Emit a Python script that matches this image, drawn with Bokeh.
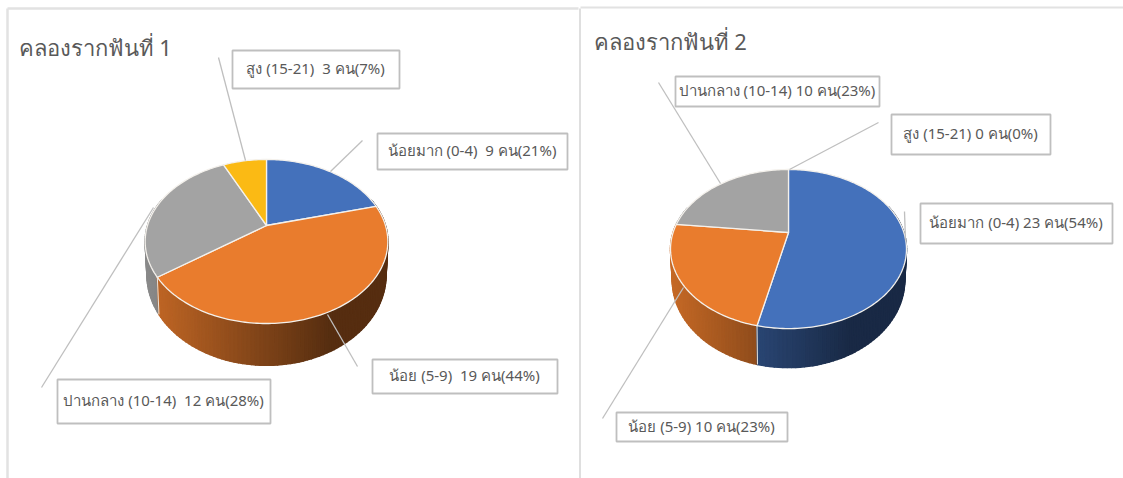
import math
from bokeh.plotting import figure
from bokeh.embed import file_html
from bokeh.resources import INLINE
from bokeh.core.properties import value

categories = ["น้อยมาก (0-4)", "น้อย (5-9)", "ปานกลาง (10-14)", "สูง (15-21)"]
values_1 = [9, 19, 12, 3]
values_2 = [23, 10, 10, 0]
percent_1 = [21, 44, 28, 7]
percent_2 = [54, 23, 23, 0]
colors = [(68, 113, 187), (233, 124, 45), (163, 163, 163), (251, 186, 20)]
titles = ["คลองรากฟันที่ 1", "คลองรากฟันที่ 2"]
FONT = "Noto Sans"
TXT = "#595959"
EDGE = "#BFBFBF"

# pie geometry: apex x, apex y, R, S, k, wall offset, wall y scale, wall x scale
geo_1 = dict(cx=266, cy=225, R=119, S=78.9, k=0.195, d=32, a=1.1, sx=0.985)
geo_2 = dict(cx=788, cy=232, R=115.4, S=76.1, k=0.208, d=29.4, a=1.1, sx=0.985)

# label boxes (left, right, top, bottom) and leader lines (x0, y0, x1, y1), per category
boxes_1 = [(377, 567, 133, 169), (372, 557, 359, 393), (57, 270, 379, 423), (232, 399, 50, 88)]
lead_1 = [(362, 140, 330, 171), (327, 314, 357, 366), (153, 207, 41, 387), (218, 57, 245, 160)]
boxes_2 = [(920, 1112, 203, 243), (616, 787, 412, 441), (675, 879, 76, 106), (891, 1050, 114, 154)]
lead_2 = [(904, 211, 905, 240), (683, 287, 602, 418), (720, 183, 658, 82), (878, 122, 789, 169)]

p = figure(width=1123, height=478, x_range=(0, 1123), y_range=(478, 0),
           output_backend="svg", toolbar_location=None, min_border=0,
           x_axis_location=None, y_axis_location=None)
p.grid.visible = False
p.outline_line_color = None
p.background_fill_color = "white"
p.border_fill_color = "white"


def rim(g, th):
    u, v = math.sin(th), math.cos(th)
    den = 1 + g["k"] * v
    return g["cx"] + g["R"] * u / den, g["cy"] - g["S"] * v / den


def wall(g, th):
    x, y = rim(g, th)
    return g["cx"] + g["sx"] * (x - g["cx"]), g["cy"] + g["d"] + g["a"] * (y - g["cy"])


def shade(col, f):
    return "#%02x%02x%02x" % tuple(int(c * f) for c in col)


def draw_pie(vals, g):
    total = sum(vals)
    edges = [0.0]
    for val in vals:
        edges.append(edges[-1] + val / total * 2 * math.pi)
    # side wall as thin strips, back to front
    strips = []
    for i, col in enumerate(colors):
        if vals[i] == 0:
            continue
        n = max(2, int((edges[i + 1] - edges[i]) / 0.03))
        for j in range(n):
            t0 = edges[i] + (edges[i + 1] - edges[i]) * j / n
            t1 = edges[i] + (edges[i + 1] - edges[i]) * (j + 1) / n
            strips.append((t0, t1, col))
    strips.sort(key=lambda s: -math.cos((s[0] + s[1]) / 2))
    rx = g["R"] * 1.02
    for t0, t1, col in strips:
        if math.cos((t0 + t1) / 2) > 0.35:
            continue
        a0, a1 = rim(g, t0), rim(g, t1)
        b0, b1 = wall(g, t0), wall(g, t1)
        t = ((a0[0] + a1[0]) / 2 - (g["cx"] - rx)) / (2 * rx)
        c = shade(col, max(0.37, 0.85 - 0.63 * t))
        p.patch([a0[0], a1[0], b1[0], b0[0]], [a0[1], a1[1], b1[1], b0[1]],
                fill_color=c, line_color=c, line_width=1.5, line_join="round")
    # white seams on the wall
    for i in range(len(vals)):
        if vals[i] == 0:
            continue
        e = edges[i + 1]
        if math.cos(e) < 0 and abs(math.sin(e)) < 0.95:
            a0, b0 = rim(g, e), wall(g, e)
            p.line([a0[0], b0[0]], [a0[1], b0[1]], line_color="#E9E3DC", line_width=1)
    # top face
    for i, col in enumerate(colors):
        if vals[i] == 0:
            continue
        n = max(2, int((edges[i + 1] - edges[i]) / 0.02))
        pts = [rim(g, edges[i] + (edges[i + 1] - edges[i]) * j / n) for j in range(n + 1)]
        xs = [g["cx"]] + [q[0] for q in pts]
        ys = [g["cy"]] + [q[1] for q in pts]
        p.patch(xs, ys, fill_color=shade(col, 1), line_color="#F4F1EC", line_width=1.3, line_join="round")


def draw_labels(vals, pcts, boxes, leads, sep):
    for i, cat in enumerate(categories):
        x0, y0, x1, y1 = leads[i]
        p.line([x0, x1], [y0, y1], line_color=EDGE, line_width=1.3)
        l, r, t, b = boxes[i]
        p.quad(left=[l], right=[r], top=[t], bottom=[b], fill_color="white",
               line_color=EDGE, line_width=1.8)
        p.text([(l + r) / 2 - 0.5], [(t + b) / 2 - 1.5], text=[f"{cat}{sep}{vals[i]} คน({pcts[i]}%)"],
               text_font=value(FONT), text_font_size="15px", text_color=TXT,
               text_align="center", text_baseline="middle")


# panel frame lines
p.line([7, 578], [8, 8], line_color="#E2E2E2", line_width=2.5)
p.line([580, 1123], [7, 7], line_color="#E2E2E2", line_width=2)
p.line([7, 7], [8, 478], line_color="#E2E2E2", line_width=2.5)
p.line([579.5, 579.5], [8, 478], line_color="#D4D4D4", line_width=1.5)

draw_pie(values_1, geo_1)
draw_pie(values_2, geo_2)
draw_labels(values_1, percent_1, boxes_1, lead_1, "\u00a0\u00a0")
draw_labels(values_2, percent_2, boxes_2, lead_2, " ")

p.text([18], [46], text=[titles[0]], text_font=value(FONT), text_font_size="22px",
       text_color=TXT, text_align="left", text_baseline="middle")
p.text([593], [40], text=[titles[1]], text_font=value(FONT), text_font_size="22px",
       text_color=TXT, text_align="left", text_baseline="middle")

open("out.html", "w").write(file_html(p, INLINE))
